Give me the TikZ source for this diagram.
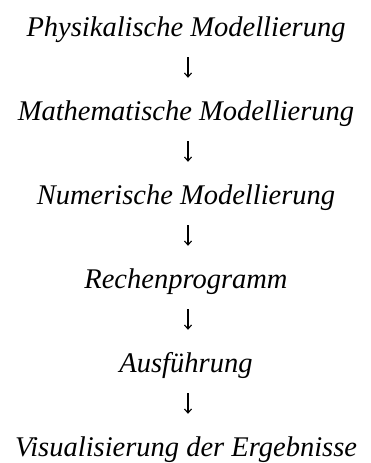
\documentclass[tikz,border=0pt]{standalone}
\usepackage{fontspec}
\setmainfont{Liberation Serif}
\usetikzlibrary{arrows.meta}
\begin{document}
\begin{tikzpicture}[x=1pt,y=-1pt,
  stepnode/.style={font=\itshape\fontsize{28.5}{32}\selectfont, inner sep=0pt, anchor=base, text height=20pt, text depth=6pt},
  flow/.style={-{Straight Barb[length=4pt,width=7pt]}, line width=1.1pt, shorten <=15pt, shorten >=22pt}]
\useasboundingbox (0,0) rectangle (371,463);
\node[stepnode] (n1) at (186,36) {Physikalische Modellierung};
\node[stepnode] (n2) at (186,120) {Mathematische Modellierung};
\node[stepnode] (n3) at (186,204) {Numerische Modellierung};
\node[stepnode] (n4) at (186,288) {Rechenprogramm};
\node[stepnode] (n5) at (186,372) {Ausführung};
\node[stepnode] (n6) at (186,456) {Visualisierung der Ergebnisse};
\draw[flow] ([xshift=2pt]n1.south) -- ([xshift=2pt]n2.north);
\draw[flow] ([xshift=2pt]n2.south) -- ([xshift=2pt]n3.north);
\draw[flow] ([xshift=2pt]n3.south) -- ([xshift=2pt]n4.north);
\draw[flow] ([xshift=2pt]n4.south) -- ([xshift=2pt]n5.north);
\draw[flow] ([xshift=2pt]n5.south) -- ([xshift=2pt]n6.north);
\end{tikzpicture}
\end{document}
